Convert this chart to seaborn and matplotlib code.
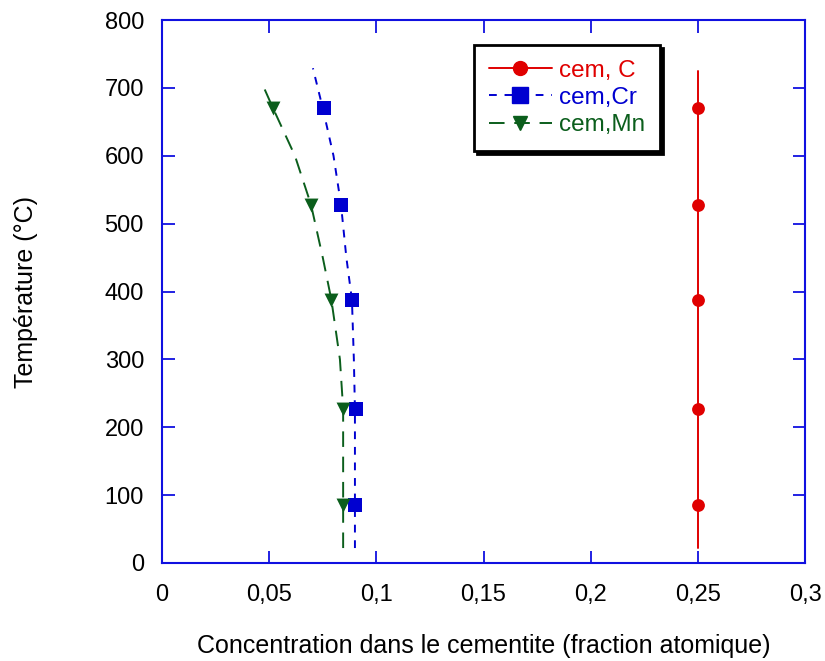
import matplotlib
matplotlib.use("Agg")
import matplotlib.pyplot as plt
from matplotlib.lines import Line2D
import seaborn as sns

# curves (temperature vs concentration)
temp_line_c = [22, 725]
conc_line_c = [0.25, 0.25]
temp_line_cr = [22, 85, 227, 300, 388, 450, 528, 600, 670, 729]
conc_line_cr = [0.090, 0.090, 0.090, 0.0895, 0.0886, 0.086, 0.0835, 0.080, 0.075, 0.0704]
temp_line_mn = [22, 85, 227, 300, 388, 450, 528, 600, 670, 707]
conc_line_mn = [0.0845, 0.0845, 0.0845, 0.083, 0.079, 0.075, 0.0695, 0.062, 0.0518, 0.0466]

# marked points
temp_pts = [85, 227, 388, 528, 670]
conc_pts_c = [0.25, 0.25, 0.25, 0.25, 0.25]
conc_pts_cr = [0.090, 0.0905, 0.0886, 0.0835, 0.0755]
conc_pts_mn = [0.0845, 0.0845, 0.079, 0.0695, 0.0518]

labels = ["cem, C", "cem,Cr", "cem,Mn"]
colors = ["#e00000", "#0000d0", "#0b5e1c"]

sns.set_style("ticks")
plt.rcParams["font.family"] = ["Liberation Sans", "DejaVu Sans"]
plt.rcParams["text.color"] = "black"
plt.rcParams["axes.labelcolor"] = "black"

fig = plt.figure(figsize=(8.25, 6.61), dpi=100)
ax = fig.add_axes([0.1964, 0.1483, 0.7794, 0.8214])

sns.lineplot(x=conc_line_c, y=temp_line_c, sort=False, estimator=None,
             color=colors[0], lw=1.4, ax=ax)
sns.lineplot(x=conc_line_cr, y=temp_line_cr, sort=False, estimator=None,
             color=colors[1], lw=1.4, ax=ax)
ax.lines[-1].set_dashes([4, 4])
sns.lineplot(x=conc_line_mn, y=temp_line_mn, sort=False, estimator=None,
             color=colors[2], lw=1.4, ax=ax)
ax.lines[-1].set_dashes([8, 5])

sns.scatterplot(x=conc_pts_c, y=temp_pts, color=colors[0], marker="o", s=85, linewidth=0, ax=ax)
sns.scatterplot(x=conc_pts_cr, y=temp_pts, color=colors[1], marker="s", s=115, linewidth=0, ax=ax)
sns.scatterplot(x=conc_pts_mn, y=temp_pts, color=colors[2], marker="v", s=100, linewidth=0, ax=ax)

ax.set_xlim(0, 0.3)
ax.set_ylim(0, 800)
ax.set_xticks([0, 0.05, 0.1, 0.15, 0.2, 0.25, 0.3])
ax.set_xticklabels(["0", "0,05", "0,1", "0,15", "0,2", "0,25", "0,3"])
ax.set_yticks(range(0, 801, 100))
ax.tick_params(direction="in", length=9, width=1.3, color="#1010e0",
               top=True, right=True, labelsize=17, labelcolor="black")
ax.tick_params(axis="x", pad=15)
ax.tick_params(axis="y", pad=13)
for sp in ax.spines.values():
    sp.set_color("#1010e0")
    sp.set_linewidth(1.5)
    sp.set_visible(True)

ax.set_xlabel("Concentration dans le cementite (fraction atomique)", fontsize=18, labelpad=20)
ax.set_ylabel("Température (°C)", fontsize=18, labelpad=48)

handles = [
    Line2D([], [], color=colors[0], lw=1.4, marker="o", markersize=10),
    Line2D([], [], color=colors[1], lw=1.4, ls=(0, (4, 4)), marker="s", markersize=11),
    Line2D([], [], color=colors[2], lw=1.4, ls=(0, (8, 5)), marker="v", markersize=10),
]
leg = ax.legend(handles, labels, loc="upper right", bbox_to_anchor=(0.7745, 0.954),
                fontsize=17.5, frameon=True, fancybox=False, handlelength=2.6,
                handletextpad=0.3, borderpad=0.6, labelspacing=0.22,
                borderaxespad=0, shadow={"color": "black", "alpha": 1})
leg.get_frame().set_edgecolor("black")
leg.get_frame().set_linewidth(2)
for t, c in zip(leg.get_texts(), colors):
    t.set_color(c)

fig.savefig("out.png", dpi=100)
